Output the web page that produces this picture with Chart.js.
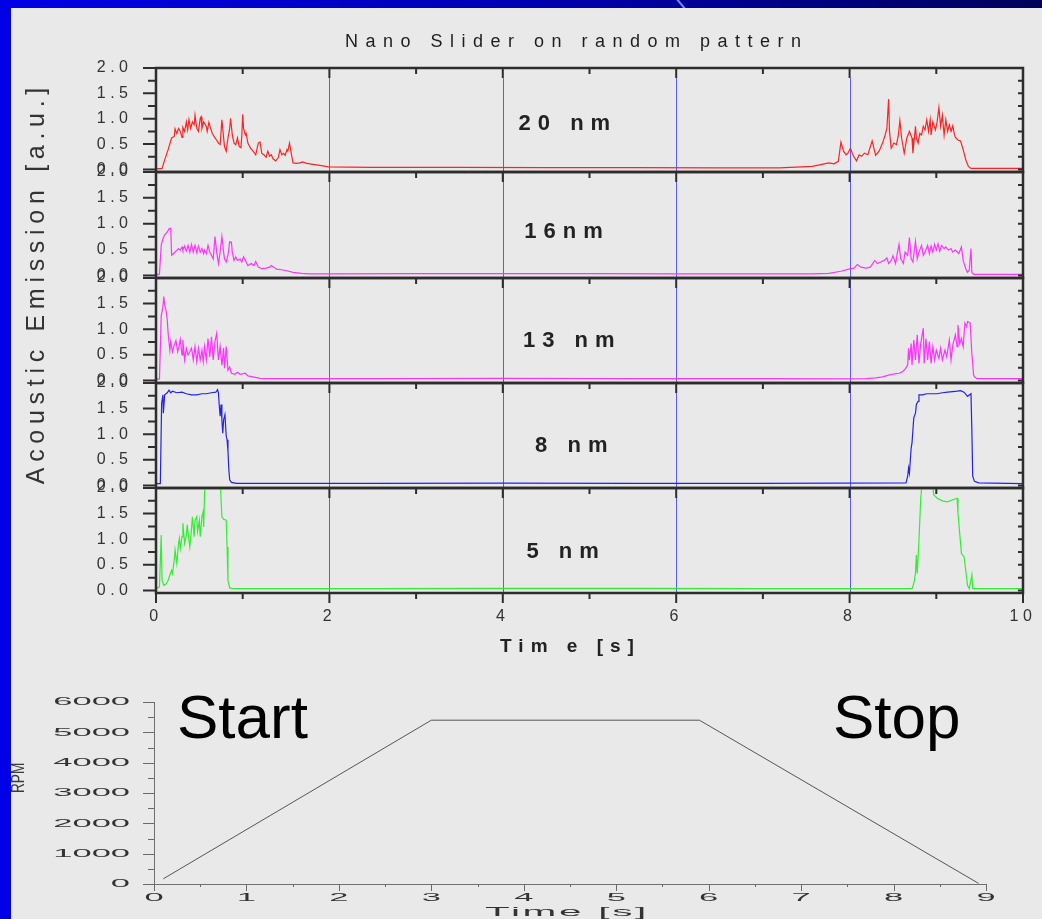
<!DOCTYPE html>
<html>
<head>
<meta charset="utf-8">
<title>Nano Slider on random pattern</title>
<script src="https://cdn.jsdelivr.net/npm/chart.js@4.4.1/dist/chart.umd.min.js"></script>
<style>
  html, body { margin: 0; padding: 0; overflow: hidden; }
  body { width: 1042px; height: 919px; background: #0000e6; }
  #slide { position: relative; width: 1042px; height: 919px; overflow: hidden; }
  #band { position: absolute; left: 0; top: 0; width: 1042px; height: 8px; background: linear-gradient(to right, #0000e6 0%, #0000b4 50%, #00005a 100%); overflow: hidden; }
  #band span { position: absolute; left: 680px; top: -4px; width: 2px; height: 16px; background: #6d8cff; transform: rotate(-40deg); }
  #panel { position: absolute; left: 11px; top: 8px; right: 0; bottom: 0; background: #e9e9e9; }
  canvas { position: absolute; left: 0; }
</style>
</head>
<body>
<div id="slide">
  <div id="band"><span></span></div>
  <div id="panel"></div>
  <canvas id="ae1" width="1042" height="670" style="top:0"></canvas>
  <canvas id="ae2" width="1042" height="670" style="top:0"></canvas>
  <canvas id="ae3" width="1042" height="670" style="top:0"></canvas>
  <canvas id="ae4" width="1042" height="670" style="top:0"></canvas>
  <canvas id="ae5" width="1042" height="670" style="top:0"></canvas>
  <canvas id="rpm" width="1042" height="270" style="top:665px"></canvas>
</div>
<script>
const FONT = "'Liberation Sans', Arial, sans-serif";

// acoustic emission traces, [time s, signal a.u.]
const timeTicks = [0, 2, 4, 6, 8, 10];
const aeTicks = [0, 0.5, 1, 1.5, 2];
const markerTimes = [2, 4, 6, 8];

const ae20nm = [
  [0, 0.01], [0.07, 0.02], [0.10, 0.19], [0.14, 0.39], [0.18, 0.62], [0.21, 0.65], [0.22, 0.80], [0.24, 0.71],
  [0.26, 0.81], [0.28, 0.75], [0.30, 0.63], [0.31, 0.83], [0.33, 0.75], [0.35, 0.94], [0.365, 0.78], [0.38, 0.98],
  [0.40, 0.81], [0.42, 0.94], [0.44, 0.88], [0.45, 1.07], [0.47, 0.81], [0.49, 0.75], [0.51, 1.01], [0.52, 1.04],
  [0.53, 0.81], [0.55, 0.94], [0.58, 0.85], [0.59, 0.75], [0.61, 0.93], [0.63, 0.81], [0.65, 0.71], [0.68, 0.62],
  [0.70, 0.58], [0.72, 0.52], [0.74, 0.49], [0.76, 0.98], [0.78, 0.62], [0.79, 0.45], [0.81, 0.36], [0.83, 0.62],
  [0.85, 0.81], [0.86, 1.01], [0.88, 0.68], [0.90, 0.52], [0.92, 0.49], [0.94, 0.62], [0.96, 0.45], [0.98, 0.43],
  [0.99, 0.68], [1.00, 1.09], [1.01, 0.81], [1.03, 0.68], [1.04, 0.71], [1.06, 0.52], [1.09, 0.42], [1.12, 0.36],
  [1.15, 0.29], [1.18, 0.52], [1.20, 0.54], [1.22, 0.32], [1.25, 0.28], [1.27, 0.24], [1.29, 0.36], [1.31, 0.26],
  [1.33, 0.29], [1.35, 0.21], [1.38, 0.17], [1.41, 0.23], [1.43, 0.39], [1.45, 0.29], [1.47, 0.32], [1.49, 0.28],
  [1.51, 0.39], [1.52, 0.36], [1.54, 0.52], [1.56, 0.32], [1.58, 0.13], [1.62, 0.12], [1.66, 0.13], [1.69, 0.15],
  [1.74, 0.12], [1.81, 0.10], [1.89, 0.08], [1.99, 0.05], [2.5, 0.04], [3.5, 0.04], [4.5, 0.035], [5.5, 0.035],
  [6.5, 0.03], [7.19, 0.03], [7.57, 0.06], [7.76, 0.13], [7.82, 0.11], [7.87, 0.16], [7.90, 0.54], [7.93, 0.36],
  [7.96, 0.29], [7.98, 0.32], [8.01, 0.42], [8.04, 0.28], [8.08, 0.17], [8.11, 0.29], [8.14, 0.26], [8.17, 0.32],
  [8.21, 0.29], [8.26, 0.56], [8.28, 0.42], [8.30, 0.28], [8.34, 0.36], [8.38, 0.52], [8.41, 0.68], [8.43, 0.81],
  [8.45, 1.39], [8.46, 0.75], [8.48, 0.42], [8.51, 0.52], [8.54, 0.49], [8.56, 0.65], [8.58, 0.96], [8.60, 0.62],
  [8.63, 0.32], [8.66, 0.62], [8.69, 0.75], [8.72, 0.62], [8.73, 0.32], [8.76, 0.85], [8.77, 0.62], [8.79, 0.52],
  [8.81, 0.71], [8.83, 0.68], [8.85, 0.85], [8.87, 0.78], [8.89, 0.98], [8.91, 0.75], [8.93, 0.98], [8.94, 0.68],
  [8.96, 0.94], [8.99, 0.78], [9.01, 0.94], [9.03, 1.22], [9.05, 0.85], [9.07, 1.07], [9.09, 0.68], [9.11, 0.98],
  [9.13, 0.75], [9.15, 0.88], [9.17, 0.75], [9.19, 0.86], [9.21, 0.68], [9.22, 0.63], [9.25, 0.58], [9.28, 0.56],
  [9.31, 0.39], [9.34, 0.19], [9.37, 0.06], [9.40, 0.02], [10, 0.02]
];

const ae16nm = [
  [0, 0.01], [0.04, 0.025], [0.06, 0.58], [0.08, 0.71], [0.10, 0.78], [0.13, 0.84], [0.15, 0.90], [0.17, 0.91],
  [0.18, 0.39], [0.20, 0.42], [0.23, 0.47], [0.26, 0.52], [0.28, 0.49], [0.30, 0.55], [0.31, 0.49], [0.33, 0.57],
  [0.35, 0.47], [0.37, 0.58], [0.39, 0.45], [0.41, 0.60], [0.43, 0.45], [0.45, 0.58], [0.47, 0.44], [0.49, 0.57],
  [0.51, 0.45], [0.53, 0.52], [0.55, 0.42], [0.56, 0.49], [0.58, 0.42], [0.60, 0.58], [0.62, 0.45], [0.64, 0.39],
  [0.66, 0.32], [0.68, 0.75], [0.70, 0.45], [0.72, 0.23], [0.74, 0.45], [0.76, 0.75], [0.78, 0.45], [0.79, 0.32],
  [0.81, 0.26], [0.83, 0.39], [0.85, 0.65], [0.87, 0.64], [0.88, 0.45], [0.90, 0.29], [0.92, 0.36], [0.94, 0.29],
  [0.97, 0.32], [0.99, 0.26], [1.01, 0.36], [1.04, 0.26], [1.06, 0.19], [1.10, 0.23], [1.13, 0.19], [1.15, 0.27],
  [1.18, 0.16], [1.22, 0.13], [1.27, 0.14], [1.31, 0.16], [1.33, 0.19], [1.36, 0.16], [1.39, 0.12], [1.45, 0.11],
  [1.51, 0.09], [1.58, 0.06], [1.68, 0.04], [1.77, 0.03], [2.0, 0.03], [3.0, 0.035], [4.0, 0.035], [5.0, 0.035],
  [6.0, 0.03], [7.19, 0.03], [7.57, 0.03], [7.76, 0.04], [7.90, 0.08], [7.99, 0.12], [8.05, 0.14], [8.09, 0.21],
  [8.13, 0.16], [8.19, 0.14], [8.24, 0.16], [8.29, 0.29], [8.32, 0.23], [8.36, 0.26], [8.40, 0.29], [8.43, 0.34],
  [8.45, 0.23], [8.48, 0.29], [8.50, 0.38], [8.53, 0.23], [8.55, 0.42], [8.57, 0.60], [8.59, 0.32], [8.62, 0.23],
  [8.64, 0.45], [8.67, 0.39], [8.69, 0.73], [8.71, 0.32], [8.73, 0.26], [8.76, 0.66], [8.78, 0.32], [8.80, 0.45],
  [8.83, 0.58], [8.85, 0.39], [8.88, 0.49], [8.90, 0.58], [8.92, 0.42], [8.94, 0.57], [8.96, 0.45], [8.98, 0.60],
  [9.00, 0.49], [9.02, 0.61], [9.04, 0.47], [9.06, 0.58], [9.09, 0.52], [9.11, 0.55], [9.14, 0.49], [9.17, 0.52],
  [9.19, 0.45], [9.22, 0.49], [9.26, 0.42], [9.29, 0.55], [9.31, 0.29], [9.34, 0.13], [9.36, 0.06], [9.38, 0.10],
  [9.40, 0.52], [9.41, 0.06], [9.43, 0.02], [10, 0.02]
];

const ae13nm = [
  [0, 0.02], [0.04, 0.03], [0.06, 1.25], [0.08, 1.44], [0.09, 1.64], [0.10, 1.47], [0.115, 1.38], [0.13, 1.18],
  [0.14, 0.92], [0.16, 0.59], [0.17, 0.76], [0.19, 0.56], [0.21, 0.69], [0.23, 0.78], [0.25, 0.56], [0.265, 0.66],
  [0.28, 0.80], [0.30, 0.50], [0.31, 0.79], [0.33, 0.40], [0.35, 0.63], [0.37, 0.50], [0.39, 0.56], [0.41, 0.63],
  [0.43, 0.40], [0.45, 0.66], [0.47, 0.37], [0.49, 0.63], [0.51, 0.40], [0.53, 0.59], [0.545, 0.37], [0.56, 0.66],
  [0.58, 0.40], [0.60, 0.82], [0.62, 0.46], [0.64, 0.85], [0.66, 0.40], [0.68, 0.76], [0.70, 0.92], [0.72, 0.40],
  [0.74, 0.66], [0.76, 0.30], [0.78, 0.63], [0.79, 0.24], [0.81, 0.66], [0.83, 0.20], [0.85, 0.26], [0.87, 0.14],
  [0.91, 0.12], [0.94, 0.16], [0.97, 0.12], [1.03, 0.14], [1.06, 0.09], [1.12, 0.07], [1.20, 0.04], [1.31, 0.035],
  [2.5, 0.035], [4.0, 0.04], [5.5, 0.035], [7.0, 0.035], [7.99, 0.03], [8.19, 0.035], [8.30, 0.05], [8.38, 0.07],
  [8.46, 0.11], [8.52, 0.13], [8.57, 0.14], [8.61, 0.17], [8.64, 0.22], [8.67, 0.30], [8.68, 0.63], [8.69, 0.40],
  [8.71, 0.72], [8.72, 0.30], [8.74, 0.79], [8.76, 0.40], [8.78, 0.89], [8.80, 0.33], [8.82, 0.72], [8.85, 1.02],
  [8.86, 0.33], [8.88, 0.82], [8.90, 0.40], [8.92, 0.76], [8.94, 0.33], [8.96, 0.66], [8.98, 0.40], [9.00, 0.59],
  [9.03, 0.43], [9.05, 0.63], [9.07, 0.40], [9.10, 0.59], [9.12, 0.46], [9.15, 0.79], [9.17, 0.40], [9.19, 0.69],
  [9.22, 0.89], [9.24, 0.66], [9.25, 1.08], [9.27, 0.72], [9.29, 0.82], [9.31, 0.66], [9.33, 1.12], [9.35, 1.05],
  [9.36, 1.15], [9.39, 1.13], [9.41, 0.53], [9.43, 0.11], [9.44, 0.07], [9.47, 0.035], [10, 0.035]
];

const ae8nm = [
  [0, 0.035], [0.05, 0.035], [0.065, 1.61], [0.08, 1.77], [0.085, 1.41], [0.10, 1.77], [0.13, 1.81], [0.15, 1.86],
  [0.17, 1.81], [0.19, 1.84], [0.24, 1.81], [0.30, 1.82], [0.35, 1.79], [0.41, 1.77], [0.47, 1.77], [0.53, 1.79],
  [0.58, 1.79], [0.64, 1.81], [0.69, 1.82], [0.71, 1.87], [0.72, 1.81], [0.73, 1.55], [0.74, 1.35], [0.75, 1.58],
  [0.76, 1.28], [0.77, 1.02], [0.78, 1.28], [0.795, 1.38], [0.81, 0.96], [0.82, 0.89], [0.83, 0.67], [0.84, 0.31],
  [0.85, 0.11], [0.87, 0.06], [0.93, 0.04], [2.5, 0.04], [4.0, 0.045], [5.5, 0.04], [7.0, 0.04], [8.65, 0.05],
  [8.67, 0.18], [8.68, 0.34], [8.69, 0.24], [8.71, 0.73], [8.72, 0.83], [8.74, 1.32], [8.76, 1.41], [8.77, 1.58],
  [8.79, 1.64], [8.80, 1.77], [8.84, 1.77], [8.89, 1.79], [8.95, 1.79], [9.01, 1.79], [9.07, 1.81], [9.13, 1.82],
  [9.19, 1.83], [9.24, 1.84], [9.28, 1.85], [9.32, 1.82], [9.36, 1.74], [9.40, 1.79], [9.41, 1.09], [9.42, 0.18],
  [9.44, 0.08], [9.49, 0.05], [10, 0.035]
];

const ae5nm = [
  [0, 0.035], [0.04, 0.07], [0.06, 1.08], [0.07, 0.20], [0.09, 0.10], [0.12, 0.13], [0.14, 0.20], [0.16, 0.30],
  [0.18, 0.39], [0.19, 0.33], [0.21, 0.59], [0.22, 0.79], [0.24, 0.53], [0.26, 0.92], [0.27, 1.02], [0.28, 0.82],
  [0.30, 1.05], [0.31, 1.31], [0.33, 0.92], [0.35, 1.08], [0.36, 1.28], [0.38, 0.98], [0.39, 0.85], [0.41, 1.21],
  [0.42, 1.44], [0.44, 1.05], [0.45, 1.37], [0.47, 1.44], [0.48, 1.15], [0.50, 1.37], [0.51, 1.05], [0.53, 1.44],
  [0.545, 1.54], [0.55, 1.24], [0.56, 1.90], [0.58, 2.3], [0.65, 2.5], [0.72, 2.4], [0.745, 1.98], [0.76, 1.44],
  [0.78, 1.39], [0.81, 1.37], [0.82, 0.85], [0.83, 0.20], [0.85, 0.05], [0.89, 0.035], [2.5, 0.035], [4.0, 0.04],
  [5.5, 0.04], [7.0, 0.035], [8.72, 0.035], [8.74, 0.13], [8.76, 0.33], [8.77, 0.69], [8.78, 0.33], [8.80, 0.98],
  [8.82, 1.77], [8.84, 2.2], [8.90, 2.4], [8.95, 2.2], [8.97, 1.87], [9.01, 1.80], [9.07, 1.75], [9.13, 1.73],
  [9.19, 1.77], [9.24, 1.80], [9.25, 1.51], [9.27, 1.11], [9.29, 0.72], [9.32, 0.66], [9.34, 0.39], [9.36, 0.10],
  [9.38, 0.035], [9.41, 0.30], [9.42, 0.035], [10, 0.035]
];

// spindle speed profile
const rpmTime = [0.1, 3.0, 5.9, 8.92];
const rpmValue = [170, 5400, 5400, 20];
const rpmTicks = [0, 1000, 2000, 3000, 4000, 5000, 6000];
const rpmTimeTicks = [0, 1, 2, 3, 4, 5, 6, 7, 8, 9];

const panels = [
  { id: "ae1", data: ae20nm, color: "rgb(255,34,34)", label: "20 nm", top: 68, bottom: 172, labelAt: [4.71, 0.9], markerTop: 1.8, header: true },
  { id: "ae2", data: ae16nm, color: "rgb(255,50,255)", label: "16nm", top: 172, bottom: 278, labelAt: [4.70, 0.84] },
  { id: "ae3", data: ae13nm, color: "rgb(255,50,255)", label: "13 nm", top: 278, bottom: 383, labelAt: [4.76, 0.77] },
  { id: "ae4", data: ae8nm, color: "rgb(34,34,240)", label: "8 nm", top: 383, bottom: 488, labelAt: [4.79, 0.77] },
  { id: "ae5", data: ae5nm, color: "rgb(50,238,50)", label: "5 nm", top: 488, bottom: 593, labelAt: [4.69, 0.75], last: true }
];

function spacedText(ctx, text, px, py, spacing, align) {
  ctx.letterSpacing = spacing + "px";
  ctx.textAlign = align;
  // trailing letter spacing shifts centred text, put it back
  const shift = align === "center" ? spacing / 2 : align === "right" ? spacing : 0;
  ctx.fillText(text, px + shift, py);
}

function stretchText(ctx, text, px, py, sx, align) {
  ctx.save();
  ctx.translate(px, py);
  ctx.scale(sx, 1);
  ctx.textAlign = align;
  ctx.fillText(text, 0, 0);
  ctx.restore();
}

const panelDecor = {
  id: "panelDecor",
  beforeDraw(chart) {
    chart.ctx.letterSpacing = "4.5px";
  },
  beforeDatasetsDraw(chart, args, o) {
    const { ctx, chartArea: a, scales: { x, y } } = chart;
    const yTop = y.getPixelForValue(o.markerTop);
    ctx.save();
    ctx.strokeStyle = "rgb(90,90,255)";
    ctx.lineWidth = 1;
    markerTimes.forEach(t => {
      const px = Math.round(x.getPixelForValue(t)) + 0.5;
      ctx.beginPath();
      ctx.moveTo(px, yTop);
      ctx.lineTo(px, a.bottom);
      ctx.stroke();
    });
    ctx.restore();
  },
  afterDatasetsDraw(chart, args, o) {
    const { ctx, chartArea: a, scales: { x, y } } = chart;
    ctx.save();
    ctx.strokeStyle = "#2d2d2d";
    ctx.lineWidth = 2.5;
    ctx.strokeRect(a.left, a.top, a.right - a.left, a.bottom - a.top);
    ctx.lineWidth = 2;
    ctx.beginPath();
    for (let t = 0; t <= 10; t++) {
      const px = x.getPixelForValue(t);
      const len = t % 2 ? 6 : 10;
      ctx.moveTo(px, a.top);
      ctx.lineTo(px, a.top + len);
      if (o.bottomTicks) {
        ctx.moveTo(px, a.bottom);
        ctx.lineTo(px, a.bottom + len);
      }
    }
    for (let v = 0; v <= 2; v += 0.25) {
      const py = y.getPixelForValue(v);
      const major = Math.abs(v * 2 - Math.round(v * 2)) < 1e-6;
      ctx.moveTo(a.left - (major ? 13 : 8), py);
      ctx.lineTo(a.left, py);
      ctx.moveTo(a.right - 5, py);
      ctx.lineTo(a.right, py);
    }
    ctx.stroke();
    ctx.restore();
  },
  afterDraw(chart, args, o) {
    const { ctx, scales: { x, y } } = chart;
    ctx.save();
    ctx.fillStyle = "#222";
    ctx.textBaseline = "middle";
    ctx.font = "bold 22px " + FONT;
    spacedText(ctx, o.label, x.getPixelForValue(o.labelAt[0]), y.getPixelForValue(o.labelAt[1]), 7, "center");

    if (o.header) {
      ctx.fillStyle = "#1e1e1e";
      ctx.font = "18px " + FONT;
      spacedText(ctx, "Nano Slider on random pattern", 573, 42, 7.5, "center");
      ctx.save();
      ctx.translate(37, 286);
      ctx.rotate(-Math.PI / 2);
      ctx.fillStyle = "#333";
      ctx.font = "25px " + FONT;
      spacedText(ctx, "Acoustic Emission [a.u.]", 0, 0, 5.7, "center");
      ctx.restore();
    }
    if (o.xTitle) {
      ctx.fillStyle = "#222";
      ctx.font = "bold 19px " + FONT;
      spacedText(ctx, o.xTitle, 567, 647, 7, "center");
    }
    ctx.restore();
  }
};

const rpmDecor = {
  id: "rpmDecor",
  afterDraw(chart, args, o) {
    const { ctx, chartArea: a, scales: { x, y } } = chart;
    ctx.save();
    ctx.strokeStyle = "#6a6a6a";
    ctx.lineWidth = 1;
    ctx.beginPath();
    rpmTicks.forEach((v, i) => {
      const py = Math.round(y.getPixelForValue(v)) + 0.5;
      ctx.moveTo(a.left - 11, py);
      ctx.lineTo(a.left, py);
      if (i < rpmTicks.length - 1) {
        const pm = Math.round(y.getPixelForValue((v + rpmTicks[i + 1]) / 2)) + 0.5;
        ctx.moveTo(a.left - 6, pm);
        ctx.lineTo(a.left, pm);
      }
    });
    rpmTimeTicks.forEach((t, i) => {
      const px = Math.round(x.getPixelForValue(t)) + 0.5;
      ctx.moveTo(px, a.bottom);
      ctx.lineTo(px, a.bottom + 7);
      if (i < rpmTimeTicks.length - 1) {
        const pm = Math.round(x.getPixelForValue((t + rpmTimeTicks[i + 1]) / 2)) + 0.5;
        ctx.moveTo(pm, a.bottom);
        ctx.lineTo(pm, a.bottom + 3);
      }
    });
    ctx.stroke();

    // wide squat tick labels of the original
    ctx.fillStyle = "#333";
    ctx.textBaseline = "middle";
    ctx.font = "11.5px " + FONT;
    rpmTicks.forEach(v => stretchText(ctx, String(v), a.left - 24, y.getPixelForValue(v), 3, "right"));
    rpmTimeTicks.forEach(t => stretchText(ctx, String(t), x.getPixelForValue(t), a.bottom + 13.5, 3, "center"));
    ctx.letterSpacing = "0.9px";
    ctx.font = "13.5px " + FONT;
    ctx.textBaseline = "alphabetic";
    stretchText(ctx, "Time [s]", 567, a.bottom + 32, 3, "center");
    ctx.letterSpacing = "0px";

    // squeezed axis name
    ctx.save();
    ctx.translate(18.5, y.getPixelForValue(3500));
    ctx.rotate(-Math.PI / 2);
    ctx.scale(0.72, 1);
    ctx.fillStyle = "#3a3a3a";
    ctx.font = "19px " + FONT;
    ctx.textAlign = "center";
    ctx.textBaseline = "middle";
    ctx.fillText("RPM", 0, 0);
    ctx.restore();

    ctx.fillStyle = "#000";
    ctx.font = "62px " + FONT;
    ctx.textAlign = "left";
    ctx.textBaseline = "alphabetic";
    o.notes.forEach(n => ctx.fillText(n.text, x.getPixelForValue(n.t), y.getPixelForValue(n.rpm)));
    ctx.restore();
  }
};

window.onload = function () {
  panels.forEach(p => {
    new Chart(document.getElementById(p.id), {
      type: "line",
      data: {
        datasets: [{
          data: p.data,
          borderColor: p.color,
          borderWidth: 1.2,
          pointRadius: 0,
          tension: 0,
          fill: false
        }]
      },
      options: {
        responsive: false,
        animation: false,
        events: [],
        layout: { padding: { left: 0, right: 19, top: p.top, bottom: p.last ? 0 : 670 - p.bottom } },
        plugins: {
          legend: { display: false },
          tooltip: { enabled: false },
          panelDecor: {
            label: p.label,
            labelAt: p.labelAt,
            markerTop: p.markerTop ?? 2,
            header: !!p.header,
            bottomTicks: !!p.last,
            xTitle: p.last ? "Tim e [s]" : null
          }
        },
        scales: {
          x: {
            type: "linear",
            min: 0,
            max: 10,
            display: !!p.last,
            grid: { display: false, drawTicks: false },
            border: { display: false },
            afterBuildTicks: s => { s.ticks = timeTicks.map(v => ({ value: v })); },
            afterFit: s => {
              s.height = p.last ? 670 - p.bottom : 0;
              s.paddingLeft = 0;
              s.paddingRight = 0;
            },
            ticks: {
              color: "#333",
              padding: 14.4,
              maxRotation: 0,
              autoSkip: false,
              font: { family: FONT, size: 16 }
            }
          },
          y: {
            min: -0.05,
            max: 2,
            grid: { display: false, drawTicks: false },
            border: { display: false },
            afterBuildTicks: s => { s.ticks = aeTicks.map(v => ({ value: v })); },
            afterFit: s => {
              s.width = 156;
              s.paddingTop = 0;
              s.paddingBottom = 0;
            },
            ticks: {
              color: "#333",
              padding: 23.5,
              font: { family: FONT, size: 16 },
              callback: v => v.toFixed(1)
            }
          }
        }
      },
      plugins: [panelDecor]
    });
  });

  new Chart(document.getElementById("rpm"), {
    type: "line",
    data: {
      datasets: [{
        data: rpmTime.map((t, i) => [t, rpmValue[i]]),
        borderColor: "#555",
        borderWidth: 1,
        pointRadius: 0,
        tension: 0,
        fill: false
      }]
    },
    options: {
      responsive: false,
      animation: false,
      events: [],
      layout: { padding: { left: 0, right: 56, top: 37, bottom: 0 } },
      plugins: {
        legend: { display: false },
        tooltip: { enabled: false },
        rpmDecor: {
          notes: [
            { text: "Start", t: 0.249, rpm: 4813 },
            { text: "Stop", t: 7.345, rpm: 4813 }
          ]
        }
      },
      scales: {
        x: {
          type: "linear",
          min: 0,
          max: 9,
          grid: { display: false, drawTicks: false },
          border: { color: "#707070", width: 1 },
          ticks: { display: false },
          afterFit: s => { s.height = 51; }
        },
        y: {
          min: 0,
          max: 6000,
          grid: { display: false, drawTicks: false },
          border: { color: "#707070", width: 1 },
          ticks: { display: false },
          afterFit: s => { s.width = 154; }
        }
      }
    },
    plugins: [rpmDecor]
  });
};
</script>
</body>
</html>
